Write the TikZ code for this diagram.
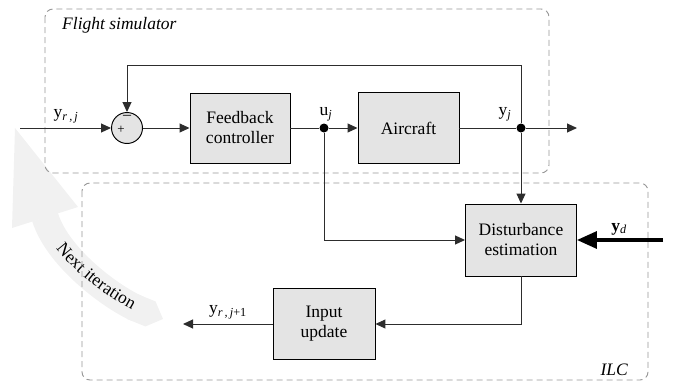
\documentclass[tikz,border=0pt]{standalone}
\usepackage{fontspec}
\setmainfont{Liberation Serif}
\usetikzlibrary{arrows.meta,decorations.text}
\definecolor{boxfill}{RGB}{228,228,228}
\definecolor{wire}{RGB}{45,45,45}
\definecolor{frame}{RGB}{150,150,150}
\definecolor{band}{RGB}{241,241,241}
\newcommand{\sig}[2]{#1\textsubscript{\itshape #2}}
\begin{document}
\begin{tikzpicture}[x=1pt,y=-1pt,
  font=\fontsize{17.5}{20}\selectfont,
  block/.style={draw=black, line width=0.95pt, fill=boxfill, align=center, inner sep=0pt},
  wire/.style={draw=wire, line width=1pt},
  arr/.style={wire, -{Triangle[length=10pt,width=9pt]}},
  bigarr/.style={draw=black, line width=3.3pt, -{Triangle[length=20pt,width=17pt]}},
  junction/.style={circle, fill=black, inner sep=0pt, minimum size=9pt},
  group/.style={draw=frame, line width=0.9pt, dash pattern=on 6pt off 4pt, rounded corners=8pt},
  lbl/.style={inner sep=0pt}
]
\useasboundingbox (0,0) rectangle (673,383);

% "Next iteration" band arrow
\fill[band] (12,228) -- (15,128) -- (78,207) -- cycle;
\draw[band, line width=27pt, {Triangle Cap}-] (163,319) .. controls (116,300) and (58.5,260) .. (45,217);
\path[decorate, decoration={text along path, text align=center, raise=-5pt,
  text={|\fontsize{17.5}{20}\selectfont|Next iteration}}]
  (45,217) .. controls (58.5,260) and (116,300) .. (163,319);

% group frames
\draw[group] (45,9) rectangle (549,173);
\draw[group] (82,183) rectangle (648,380);
\node[lbl, anchor=west, font=\fontsize{17.5}{20}\selectfont\itshape] (fslab) at (62,25) {Flight simulator};
\node[lbl, anchor=east, font=\fontsize{17.5}{20}\selectfont\itshape] (ilclab) at (628,370) {ILC};

% summing junction with its signs
\node[circle, draw=black, line width=0.95pt, fill=boxfill, minimum size=31pt, inner sep=0pt] (sum) at (127,128) {};
\node[lbl, font=\fontsize{16}{16}\selectfont] (minus) at (127,117) {–};
\node[lbl, font=\fontsize{13}{13}\selectfont] (plus) at (121,130) {+};

% blocks
\node[block, minimum width=100pt, minimum height=70pt] (fbc) at (240,128) {Feedback\\controller};
\node[block, minimum width=101pt, minimum height=71pt] (air) at (408.5,128) {Aircraft};
\node[block, minimum width=111pt, minimum height=72pt] (dist) at (521,240) {Disturbance\\estimation};
\node[block, minimum width=102pt, minimum height=71pt] (upd) at (324,324) {Input\\update};

% junctions and free ends
\node[junction] (ju) at (324,128) {};
\node[junction] (jy) at (521,128) {};
\coordinate (in) at (20,128);
\coordinate (out) at (577,128);
\coordinate (fbtop) at (127,65);
\coordinate (ydsrc) at (663,240);
\coordinate (next) at (183,324);

% connectors
\draw[arr] (in) -- (sum);
\draw[arr] (sum) -- (fbc);
\draw[wire] (fbc) -- (ju);
\draw[arr] (ju) -- (air);
\draw[wire] (air) -- (jy);
\draw[arr] (jy) -- (out);
\draw[arr] (jy) |- (fbtop) -- (sum);
\draw[arr] (jy) -- (dist);
\draw[arr] (ju) |- (dist);
\draw[bigarr] (ydsrc) -- (dist);
\draw[arr] (dist) |- (upd);
\draw[arr] (upd) -- (next);

% signal labels
\node[lbl] (lyrj) at (66,116) {\sig{y}{r\,,\,j}};
\node[lbl] (luj) at (326,114) {\sig{u}{j}};
\node[lbl] (lyj) at (505,114) {\sig{y}{j}};
\node[lbl] (lyd) at (619,229) {\sig{\textbf{y}}{d}};
\node[lbl] (lyr1) at (228,312) {\sig{y}{r\,,\,j\upshape +1}};
\end{tikzpicture}
\end{document}
